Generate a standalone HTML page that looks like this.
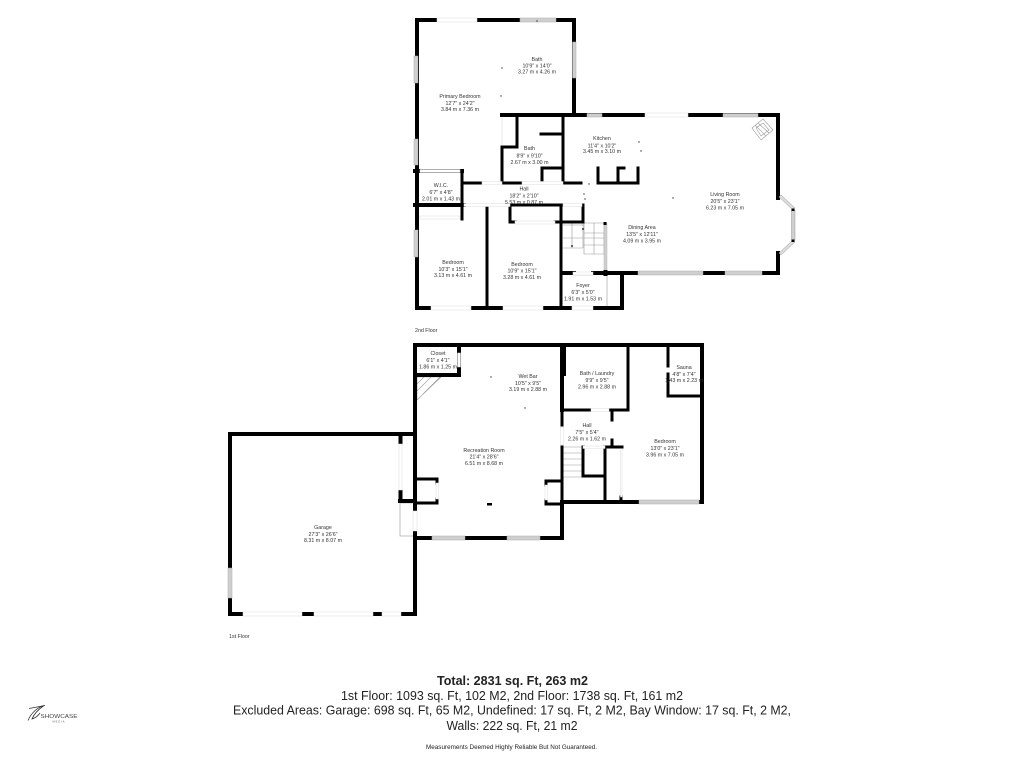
<!DOCTYPE html>
<html><head><meta charset="utf-8"><title>Floor plan</title>
<style>
html,body{margin:0;padding:0;background:#fff}
svg{display:block}
text{font-family:"Liberation Sans",sans-serif;fill:#333;text-anchor:middle;font-size:5.3px}
.l{text-anchor:start}
.w4 line,.w4 path{stroke:#000;stroke-width:4;fill:none;stroke-linecap:square}
.w3 line,.w3 path{stroke:#000;stroke-width:3;fill:none;stroke-linecap:square}
.g rect{fill:#cfcfcf;stroke:#aaa;stroke-width:.5}
.h rect{fill:#fff;stroke:#ddd;stroke-width:.5}
.t path,.t line,.t polygon,.t rect{stroke:#999;stroke-width:.6;fill:none}
.d circle{fill:#333}
.f{fill:#222;font-size:12.6px}
</style></head><body>
<svg width="1024" height="768" viewBox="0 0 1024 768" xmlns="http://www.w3.org/2000/svg">
<rect width="1024" height="768" fill="#fff"/>

<!-- 2nd floor light details -->
<g class="t">
<path d="M563 225H583M563 238H583M563 248H583M572 223V248M583 223V248"/>
<path d="M584 223H604V254H584ZM584 233H604M584 238H604M584 245H604M594 223V254"/>
<path d="M573 275H593M607 275V308"/>
<polygon points="752,128 763,119 773,130 761,140"/>
<polygon points="756,128 763,123 769,130 761,136"/>
<path d="M755 125L766 136M758 123L769 133"/>
</g>
<path d="M502 117V145" stroke="#ddd" stroke-width=".6" fill="none"/>

<!-- 2nd floor walls -->
<g class="w4">
<path d="M574 20H417V308H622V275"/>
<path d="M574 20V115"/>
<path d="M502 115H778V198M778 253V273H606"/>
<path d="M415 205H464M415 171H462"/>
<path d="M562 273H574M593 273H622"/>
</g>
<g class="w3">
<path d="M517 115V147H502V183M563 115V183M541 134H563M542 183V168H563"/>
<path d="M463 183H482M502 183H522M563 183H581"/>
<path d="M462 171V219M487 205V308M561 205V308"/>
<path d="M510 205H561M510 205V222H515M555 222H583V205M560 205H583"/>
<path d="M598 168V183H638V168M618 183V168H624"/>
</g>
<g>
<rect x="604" y="223" width="3" height="47" fill="#cfcfcf" stroke="#aaa" stroke-width=".4"/>
<rect x="603.500" y="270" width="4" height="6" fill="#000"/>
<rect x="603.500" y="222" width="3" height="3" fill="#000"/>
<polygon points="779,197 781,195 795,208 793,210" fill="#dcdcdc" stroke="#999" stroke-width=".5"/>
<rect x="791.500" y="210" width="3.500" height="30" fill="#cfcfcf" stroke="#999" stroke-width=".5"/>
<polygon points="793,240 795,242 781,255 779,253" fill="#dcdcdc" stroke="#999" stroke-width=".5"/>
<rect x="791.500" y="208.500" width="3" height="2.500" fill="#000"/>
<rect x="791.500" y="239.500" width="3" height="2.500" fill="#000"/>
</g>
<g class="g">
<rect x="520" y="18" width="36" height="4"/>
<rect x="572.500" y="42" width="3.500" height="36"/>
<rect x="414" y="56" width="4" height="27"/>
<rect x="414" y="139" width="4" height="26"/>
<rect x="414" y="230" width="4" height="27"/>
<rect x="587" y="113.500" width="15" height="3.500"/>
<rect x="723" y="113.500" width="35" height="3.500"/>
<rect x="638" y="271" width="65" height="4"/>
<rect x="725" y="271" width="37" height="4"/>
</g>
<g class="h">
<rect x="437" y="18" width="40" height="4"/>
<rect x="645" y="113" width="43" height="4"/>
<rect x="482" y="181.500" width="20" height="3"/>
<rect x="522" y="181.500" width="41" height="3"/>
<rect x="464" y="203.500" width="46" height="3"/>
<rect x="563" y="203.500" width="19" height="3"/>
<rect x="420" y="216" width="40" height="3"/>
<rect x="431" y="306" width="40" height="4"/>
<rect x="503" y="306" width="40" height="4"/>
<rect x="572" y="306" width="21" height="4"/>
<rect x="515" y="221" width="40" height="3"/>
<rect x="420" y="169.500" width="40" height="3"/>
<rect x="573" y="272" width="20" height="3"/>
</g>

<!-- 1st floor light details -->
<g class="t">
<path d="M417 377H441L417 400ZM417 384L424 377M417 391L431 377M423 394L440 377"/>
<path d="M563 447H583V477H563M563 453H583M563 459H583M563 465H583M563 471H583"/>
<rect x="400" y="503" width="15" height="33"/>
</g>

<!-- 1st floor walls -->
<g class="w4">
<path d="M415 345H702V502H562M562 345V410"/>
<path d="M415 345V510M415 532V545"/>
<path d="M416 538H562V502"/>
<path d="M415 375H459V345"/>
<path d="M230 434H415V614H230V434"/>
<path d="M400 501H415"/>
</g>
<g class="w3">
<path d="M562 410H628V345M562 410V425M562 447V538"/>
<path d="M668 345V366M668 374V396H702"/>
<path d="M612 410V420M612 440V447H622M605 447H622M605 447V502M583 447V476H605M621 497V502"/>
<path d="M415 479H437V483M437 499V503H415"/>
<path d="M546 481H562M546 481V485M546 500V504H562"/>
</g>
<rect x="561" y="345" width="5" height="31" fill="#000"/>
<rect x="398.500" y="434" width="4" height="10" fill="#000"/>
<rect x="398.500" y="490" width="4" height="12" fill="#000"/>
<rect x="487" y="503" width="5" height="2.500" fill="#000"/>
<g class="g">
<rect x="639" y="500" width="60" height="4"/>
<rect x="432" y="536" width="33" height="4"/>
<rect x="507" y="536" width="33" height="4"/>
<rect x="228" y="568" width="4" height="30"/>
</g>
<g class="h">
<rect x="243" y="612" width="59" height="4"/>
<rect x="314" y="612" width="59" height="4"/>
<rect x="382" y="612" width="19" height="4"/>
<rect x="399" y="444" width="3" height="46"/>
<rect x="413" y="511" width="4" height="20"/>
<rect x="591" y="408.500" width="18" height="3"/>
<rect x="560.500" y="427" width="3" height="18"/>
<rect x="583" y="446" width="22" height="2.500"/>
<rect x="457.500" y="353" width="3" height="14"/>
<rect x="620.500" y="450" width="1.500" height="47"/>
<rect x="436" y="483" width="2.500" height="16"/>
<rect x="545" y="485" width="2.500" height="15"/>
</g>

<!-- markers -->
<g class="d">
<circle cx="502" cy="68" r=".7"/><circle cx="501" cy="96" r=".7"/><circle cx="537" cy="21" r=".7"/>
<circle cx="639" cy="142" r=".7"/><circle cx="641" cy="151" r=".7"/><circle cx="673" cy="198" r=".7"/>
<circle cx="589" cy="184" r=".7"/><circle cx="584" cy="194" r=".7"/><circle cx="585" cy="199" r=".7"/>
<circle cx="491" cy="377" r=".7"/><circle cx="525" cy="408" r=".7"/>
<circle cx="583" cy="229" r="1"/><circle cx="572" cy="246" r="1"/>
</g>

<!-- room labels -->
<text x="537" y="61">Bath</text><text x="537" y="67.500">10'9" x 14'0"</text><text x="537" y="73.500">3.27 m x 4.26 m</text>
<text x="460" y="98">Primary Bedroom</text><text x="460" y="105">12'7" x 24'2"</text><text x="460" y="111">3.84 m x 7.36 m</text>
<text x="529.500" y="150">Bath</text><text x="529.500" y="157.500">8'9" x 9'10"</text><text x="529.500" y="164">2.67 m x 3.00 m</text>
<text x="602" y="140">Kitchen</text><text x="602" y="147.500">11'4" x 10'2"</text><text x="602" y="153">3.45 m x 3.10 m</text>
<text x="441" y="187">W.I.C.</text><text x="441" y="194">6'7" x 4'8"</text><text x="441" y="200.500">2.01 m x 1.43 m</text>
<text x="524" y="190.500">Hall</text><text x="524" y="197.500">18'2" x 2'10"</text><text x="524" y="204">5.53 m x 0.87 m</text>
<text x="453" y="264">Bedroom</text><text x="453" y="271">10'3" x 15'1"</text><text x="453" y="277">3.13 m x 4.61 m</text>
<text x="522" y="266">Bedroom</text><text x="522" y="272.500">10'9" x 15'1"</text><text x="522" y="279">3.28 m x 4.61 m</text>
<text x="583" y="287">Foyer</text><text x="583" y="294">6'3" x 5'0"</text><text x="583" y="300.500">1.91 m x 1.53 m</text>
<text x="642" y="229">Dining Area</text><text x="642" y="236">13'5" x 12'11"</text><text x="642" y="242.500">4.09 m x 3.95 m</text>
<text x="725" y="196">Living Room</text><text x="725" y="203">20'5" x 23'1"</text><text x="725" y="209.500">6.23 m x 7.05 m</text>
<text class="l" x="415" y="332">2nd Floor</text>

<text x="438" y="355">Closet</text><text x="438" y="362">6'1" x 4'1"</text><text x="438" y="368.500">1.86 m x 1.25 m</text>
<text x="528" y="378">Wet Bar</text><text x="528" y="385">10'5" x 9'5"</text><text x="528" y="391">3.19 m x 2.88 m</text>
<text x="484" y="452">Recreation Room</text><text x="484" y="458.500">21'4" x 28'6"</text><text x="484" y="465">6.51 m x 8.68 m</text>
<text x="597" y="375">Bath / Laundry</text><text x="597" y="382">9'9" x 9'5"</text><text x="597" y="388.500">2.96 m x 2.88 m</text>
<text x="684" y="369">Sauna</text><text x="684" y="376">4'8" x 7'4"</text><text x="684" y="382">1.43 m x 2.23 m</text>
<text x="587" y="427">Hall</text><text x="587" y="434">7'5" x 5'4"</text><text x="587" y="440.500">2.26 m x 1.62 m</text>
<text x="665" y="443">Bedroom</text><text x="665" y="450">13'0" x 23'1"</text><text x="665" y="456.500">3.96 m x 7.05 m</text>
<text x="323" y="529">Garage</text><text x="323" y="536">27'3" x 26'6"</text><text x="323" y="542">8.31 m x 8.07 m</text>
<text class="l" x="229" y="638">1st Floor</text>

<!-- footer -->
<text class="f" x="512.500" y="685" textLength="151" lengthAdjust="spacingAndGlyphs" style="font-weight:700">Total: 2831 sq. Ft, 263 m2</text>
<text class="f" x="512" y="700" textLength="342" lengthAdjust="spacingAndGlyphs">1st Floor: 1093 sq. Ft, 102 M2, 2nd Floor: 1738 sq. Ft, 161 m2</text>
<text class="f" x="512" y="714.500" textLength="558" lengthAdjust="spacingAndGlyphs">Excluded Areas: Garage: 698 sq. Ft, 65 M2, Undefined: 17 sq. Ft, 2 M2, Bay Window: 17 sq. Ft, 2 M2,</text>
<text class="f" x="512" y="730" textLength="131" lengthAdjust="spacingAndGlyphs">Walls: 222 sq. Ft, 21 m2</text>
<text x="511.500" y="749" style="font-size:6.500px;fill:#222" textLength="171" lengthAdjust="spacingAndGlyphs">Measurements Deemed Highly Reliable But Not Guaranteed.</text>

<!-- logo -->
<path d="M28 720.500C31 713 38 707 44 705.500C39 709 34 714 32 719C35 718 38 716 40 713" stroke="#333" stroke-width=".8" fill="none"/>
<path d="M29 708.500L45 705.500" stroke="#333" stroke-width=".7" fill="none"/>
<text class="l" x="40.500" y="718" style="font-size:5.400px;fill:#444" textLength="37" lengthAdjust="spacingAndGlyphs">SHOWCASE</text>
<text x="59" y="722.500" style="font-size:2.500px;fill:#555;letter-spacing:1px">MEDIA</text>
</svg>
</body></html>
